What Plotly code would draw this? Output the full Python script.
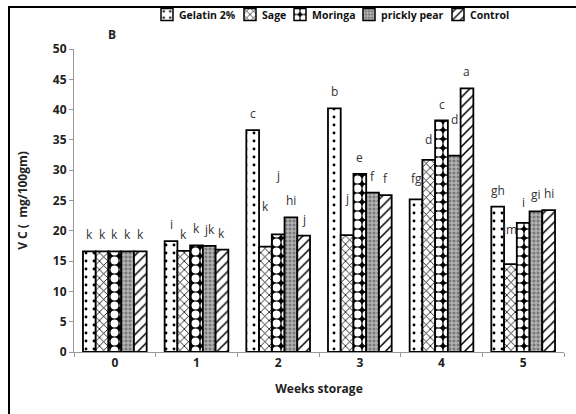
import plotly.graph_objects as go

weeks = ["0", "1", "2", "3", "4", "5"]
series_names = ["Gelatin 2%", "Sage", "Moringa", "prickly pear", "Control"]

gelatin = [16.6, 18.3, 36.6, 40.2, 25.2, 24.0]
sage = [16.6, 16.7, 17.4, 19.3, 31.7, 14.5]
moringa = [16.6, 17.6, 19.4, 29.4, 38.2, 21.3]
prickly = [16.6, 17.5, 22.2, 26.3, 32.4, 23.2]
control = [16.6, 16.9, 19.2, 25.9, 43.5, 23.4]

letters_gelatin = ["k", "i", "c", "b", "fg", "gh"]
letters_sage = ["k", "k", "k", "j", "d", "lm"]
letters_moringa = ["k", "k", "j", "e", "c", "i"]
letters_prickly = ["k", "jk", "hi", "f", "d", "gi"]
letters_control = ["k", "k", "j", "f", "a", "hi"]

values = [gelatin, sage, moringa, prickly, control]
letters = [letters_gelatin, letters_sage, letters_moringa, letters_prickly, letters_control]

# styling
patterns = [
    dict(shape=".", bgcolor="white", fgcolor="black", size=8, solidity=0.1, fillmode="replace"),
    dict(shape="x", bgcolor="white", fgcolor="black", size=6, solidity=0.25, fillmode="replace"),
    dict(shape=".", bgcolor="black", fgcolor="white", size=9, solidity=0.6, fillmode="replace"),
    dict(shape="+", bgcolor="#7a7a7a", fgcolor="#d8d8d8", size=4, solidity=0.35, fillmode="replace"),
    dict(shape="/", bgcolor="white", fgcolor="black", size=7, solidity=0.22, fillmode="replace"),
]
# extra raise (px) for some letters, keyed by (week index, series index)
extra_raise = {(2, 1): 24, (2, 2): 42, (3, 1): 20, (4, 1): 4, (4, 3): 20, (5, 1): 18, (5, 2): 4, (4, 0): 4}
# legend layout (pixels): item widths and label left edges
legend_widths = [38, 5, 24, 44, 1]
legend_text_px = [177, 260, 310, 379, 468]

font_main = "Open Sans"
L, R, T, B = 74, 12, 49, 62
W, H = 576, 414
pw, ph = W - L - R, H - T - B

fig = go.Figure()
for i, name in enumerate(series_names):
    fig.add_trace(go.Bar(
        x=weeks, y=values[i], name=name, showlegend=False,
        marker=dict(color="white", line=dict(color="black", width=1.8), pattern=patterns[i]),
    ))
# legend swatches on a hidden overlay axis (labels drawn as annotations for Excel-like spacing)
for i, name in enumerate(series_names):
    fig.add_trace(go.Bar(
        x=[None], y=[None], name=" ", showlegend=True, legendwidth=legend_widths[i],
        hoverinfo="skip", xaxis="x2", yaxis="y2",
        marker=dict(color="white", line=dict(color="black", width=1.5), pattern=patterns[i]),
    ))

ngroups = len(series_names)
bargap = 0.22
bw = (1 - bargap) / ngroups
annotations = []
for i in range(ngroups):
    for j in range(len(weeks)):
        xpos = j + (i - (ngroups - 1) / 2) * bw
        annotations.append(dict(
            x=xpos, y=values[i][j], xref="x", yref="y", text=letters[i][j],
            showarrow=False, yanchor="bottom", yshift=6 + extra_raise.get((j, i), 0),
            font=dict(family=font_main, size=12, color="#333333"),
        ))
for i, name in enumerate(series_names):
    annotations.append(dict(
        x=(legend_text_px[i] - L) / pw, y=1 + (T - 15) / ph, xref="paper", yref="paper",
        text="<b>" + name + "</b>", showarrow=False, xanchor="left", yanchor="middle",
        font=dict(family=font_main, size=10.5, color="#111"),
    ))
annotations.append(dict(x=0.065, y=1.0, xref="paper", yref="paper", text="<b>B</b>",
                        showarrow=False, xanchor="left", yanchor="bottom", yshift=4,
                        font=dict(family=font_main, size=12, color="#222")))

fig.update_layout(
    width=W, height=H,
    margin=dict(l=L, r=R, t=T, b=B),
    paper_bgcolor="white", plot_bgcolor="white",
    barmode="group", bargap=bargap, bargroupgap=0,
    font=dict(family=font_main, color="#222"),
    legend=dict(orientation="h", xref="container", yref="container",
                x=147 / W, y=1.0, xanchor="left", yanchor="top",
                font=dict(family=font_main, size=10.5, color="#111"),
                itemwidth=30, traceorder="normal", bgcolor="rgba(0,0,0,0)"),
    annotations=annotations,
    shapes=[dict(type="rect", xref="paper", yref="paper",
                 x0=(9 - L) / pw, x1=(600 - L) / pw,
                 y0=-(430 - (H - B)) / ph, y1=1 + (T - 7) / ph,
                 line=dict(color="black", width=2), fillcolor="rgba(0,0,0,0)", layer="below")],
    xaxis=dict(type="category", tickson="boundaries", ticks="outside", ticklen=4,
               tickcolor="#999", showline=True, linecolor="#999", linewidth=1,
               tickfont=dict(family=font_main, size=12, color="#222", weight="bold"),
               title=dict(text="<b>Weeks storage</b>", standoff=14,
                          font=dict(family=font_main, size=12, color="#222"))),
    yaxis=dict(range=[0, 50], dtick=5, ticks="outside", ticklen=4, tickcolor="#999",
               showline=True, linecolor="#999", linewidth=1, showgrid=False, zeroline=False,
               tickfont=dict(family=font_main, size=12, color="#222", weight="bold"),
               title=dict(text="<b>V C (  mg/100gm)</b>", standoff=22,
                          font=dict(family=font_main, size=12, color="#222"))),
    xaxis2=dict(overlaying="x", visible=False),
    yaxis2=dict(overlaying="y", visible=False),
)

fig.write_html("out.html")
